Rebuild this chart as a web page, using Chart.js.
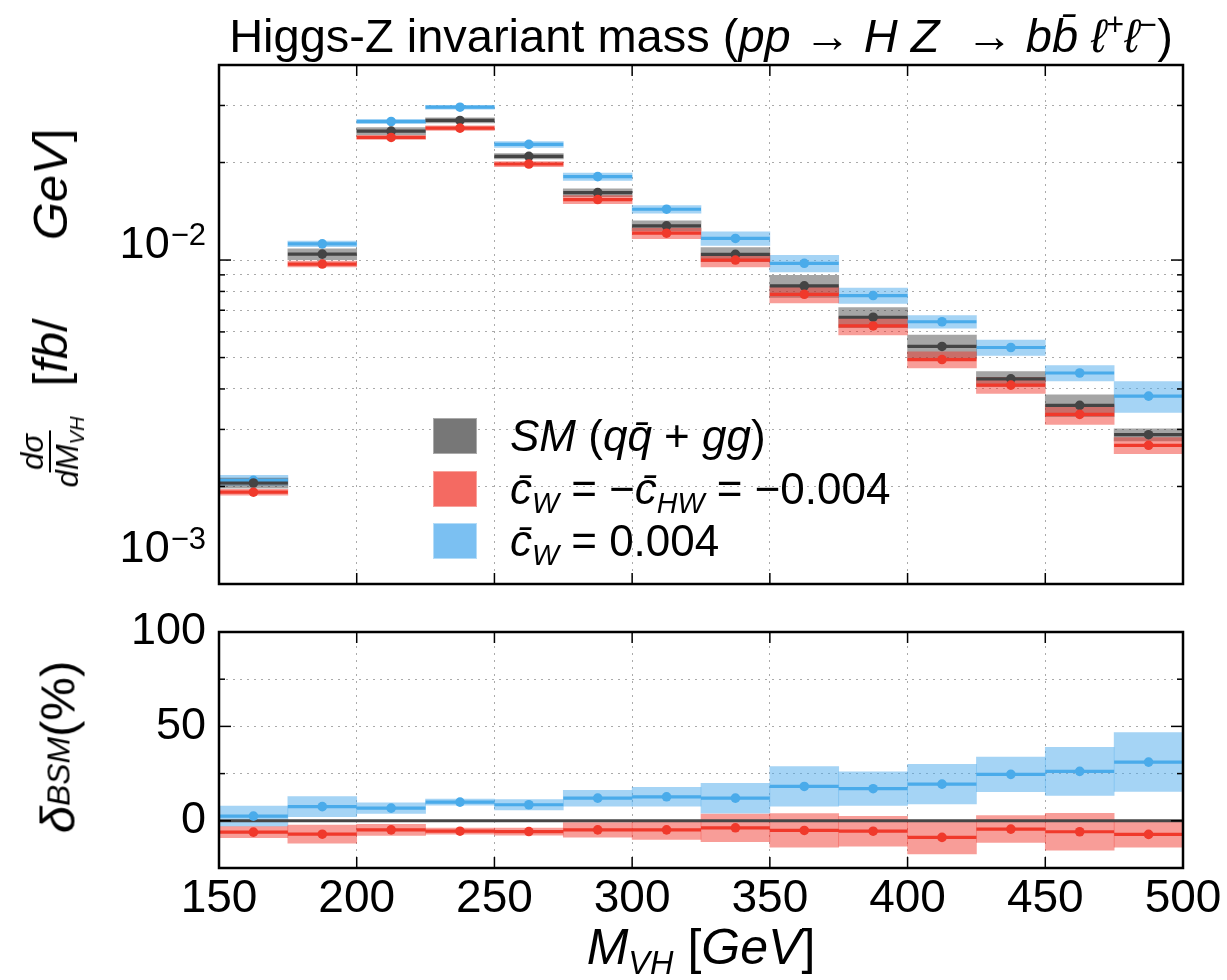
<!DOCTYPE html>
<html>
<head>
<meta charset="utf-8">
<script src="https://cdn.jsdelivr.net/npm/chart.js@4.4.1/dist/chart.umd.min.js"></script>
<style>
body{margin:0;background:#fff;}
#wrap{position:relative;width:1227px;height:980px;overflow:hidden;font-family:'Liberation Sans',Arial,sans-serif;color:#000;}
canvas{position:absolute;left:0;}
#cTop{top:0;}
#cBot{top:600px;}
.ov{position:absolute;white-space:nowrap;line-height:1;}
sub{font-size:0.65em;vertical-align:-0.3em;line-height:0;}
sup{font-size:0.65em;vertical-align:0.55em;line-height:0;}
#title{left:219px;width:964px;top:12px;text-align:center;font-size:47px;}
.rot{transform:translate(-50%,-50%) rotate(-90deg);display:flex;align-items:center;}
#ylabTop{left:50px;top:308px;font-size:49px;}
.frac{display:inline-flex;flex-direction:column;align-items:center;font-size:31px;}
.frac .num{border-bottom:2px solid #000;padding:0 3px 1px 3px;}
.frac .den{padding-top:1px;}
#ylabBot{left:58px;top:747px;font-size:49px;}
#xlab{left:219px;width:964px;top:922px;text-align:center;font-size:50px;}
#legend{left:433px;top:410px;font-size:44px;}
.row{display:flex;align-items:center;height:52.5px;}
.patch{width:44px;height:36px;margin-right:33px;box-sizing:border-box;}
</style>
</head>
<body>
<div id="wrap">
<canvas id="cTop" width="1227" height="600" style="width:1227px;height:600px"></canvas>
<canvas id="cBot" width="1227" height="380" style="width:1227px;height:380px"></canvas>

<div class="ov" id="title">Higgs-Z invariant mass (<i>pp</i> → <i>H Z</i> &nbsp;→ <i>bb̄</i> <i>ℓ</i><sup>+</sup><i>ℓ</i><sup>−</sup>)</div>

<div class="ov rot" id="ylabTop">
  <span class="frac"><span class="num"><i>dσ</i></span><span class="den"><i>dM</i><sub><i>VH</i></sub></span></span>
  <span style="margin-left:30px">[<i>fb</i>/</span>
  <span style="margin-left:78px"><i>GeV</i>]</span>
</div>

<div class="ov rot" id="ylabBot"><i>δ</i><sub><i>BSM</i></sub>(%)</div>

<div class="ov" id="xlab"><i>M</i><sub><i>VH</i></sub> [<i>GeV</i>]</div>

<div class="ov" id="legend">
  <div class="row"><div class="patch" style="background:#777;border:1px solid #aaa"></div><span><i>SM</i> (<i>q</i><i>q̄</i> + <i>gg</i>)</span></div>
  <div class="row"><div class="patch" style="background:#f46a62;border:1px solid #f8a29c"></div><span><i>c̄</i><sub><i>W</i></sub> = −<i>c̄</i><sub><i>HW</i></sub> = −0.004</span></div>
  <div class="row"><div class="patch" style="background:#7bc0f2;border:1px solid #b4dcf8"></div><span><i>c̄</i><sub><i>W</i></sub> = 0.004</span></div>
</div>
</div>

<script>
// bin edges in M_VH [GeV]
var edges = [150, 175, 200, 225, 250, 275, 300, 325, 350, 375, 400, 425, 450, 475, 500];
var xTicks = [150, 200, 250, 300, 350, 400, 450, 500];

// dsigma/dM_VH [fb/GeV]
var smXsec  = [0.00205, 0.01043, 0.0250, 0.02697, 0.0209, 0.01615, 0.01275, 0.01041, 0.00832, 0.00666, 0.00541, 0.0043, 0.00356, 0.00289];
var negXsec = [0.00192, 0.00972, 0.0239, 0.02553, 0.01979, 0.01537, 0.0121, 0.0100, 0.00784, 0.00626, 0.00493, 0.00411, 0.00334, 0.00268];
var posXsec = [0.00209, 0.01122, 0.02677, 0.02963, 0.02275, 0.01809, 0.01435, 0.01166, 0.00977, 0.00777, 0.00645, 0.00537, 0.00448, 0.0038];
// band half-heights, % of the value
var smErr  = [3.6, 3.9, 2.6, 1.8, 1.9, 2.8, 3.6, 5.0, 7.8, 7.1, 8.4, 5.2, 7.7, 4.3];
var negErr = [2.1, 2.1, 1.4, 1.6, 1.8, 2.8, 3.8, 4.8, 5.9, 6.2, 5.7, 5.7, 6.9, 5.7];
var posErr = [3.6, 1.9, 1.6, 1.4, 2.1, 2.6, 2.7, 4.8, 5.9, 5.5, 4.5, 5.5, 5.5, 10.9];

// delta_BSM (%) and band half-heights
var posDelta    = [2.5, 7.5, 6.7, 9.9, 8.5, 12, 12.7, 12, 18.2, 17, 19.4, 24.6, 26.2, 31.1];
var posDeltaErr = [5.3, 5.3, 2.8, 1.6, 2.7, 4.2, 5, 7.9, 10.5, 8.9, 10.5, 9.2, 12.7, 15.6];
var negDelta    = [-6, -7.1, -4.8, -5.5, -5.7, -4.8, -4.8, -3.7, -5.1, -5.5, -8.8, -4.4, -5.8, -7.2];
var negDeltaErr = [3, 4.8, 2.9, 1.6, 1.9, 3.9, 5.1, 7.3, 8.9, 7.9, 8.7, 7.1, 9.8, 6.8];

var yLabelsTop = [0.001, 0.01];
var yLabelsBot = [0, 50, 100];

var FONT = '"Liberation Sans", Arial, sans-serif';
Chart.defaults.font.family = FONT;
Chart.defaults.color = '#000';

var BLACK = '#444444', RED = '#f0392b', BLUE = '#4aabea';
var BLACK_BAND = 'rgba(64,64,64,0.47)', RED_BAND = 'rgba(240,50,40,0.48)', BLUE_BAND = 'rgba(76,170,235,0.5)';

function mid(i){ return (edges[i] + edges[i+1]) / 2; }
function seg(vals){
	var out = [];
	vals.forEach(function(v, i){
		out.push({x: edges[i], y: v}, {x: edges[i+1], y: v}, {x: edges[i+1], y: null});
	});
	return out;
}
function dots(vals){ return vals.map(function(v, i){ return {x: mid(i), y: v}; }); }
function bandLog(vals, errs){ return vals.map(function(v, i){ return {x: mid(i), y: [v*(1-errs[i]/100), v*(1+errs[i]/100)]}; }); }
function bandLin(vals, errs){ return vals.map(function(v, i){ return {x: mid(i), y: [v-errs[i], v+errs[i]]}; }); }

function bandSet(data, color, order){
	return {type: 'bar', data: data, backgroundColor: color, borderWidth: 0, barPercentage: 1, categoryPercentage: 1, grouped: false, order: order};
}
function lineSet(data, color, order, w){
	return {type: 'line', data: data, borderColor: color, borderWidth: w || 3.2, pointRadius: 0, spanGaps: false, fill: false, borderCapStyle: 'butt', order: order};
}
function dotSet(data, color, order){
	return {type: 'line', data: data, showLine: false, pointRadius: 4.8, pointBackgroundColor: color, pointBorderWidth: 0, order: order};
}

// inner ticks + full box frame, like the original
function makeFrame(majors){
	return {
		id: 'frame',
		afterDraw: function(chart){
			var ctx = chart.ctx, a = chart.chartArea, sx = chart.scales.x, sy = chart.scales.y;
			ctx.save();
			ctx.strokeStyle = '#000';
			ctx.lineWidth = 1.5;
			function ln(x1, y1, x2, y2){ ctx.beginPath(); ctx.moveTo(x1, y1); ctx.lineTo(x2, y2); ctx.stroke(); }
			sy.ticks.forEach(function(t){
				var py = sy.getPixelForValue(t.value);
				var len = majors.indexOf(t.value) >= 0 ? 12 : 6;
				ln(a.left, py, a.left + len, py);
				ln(a.right, py, a.right - len, py);
			});
			sx.ticks.forEach(function(t){
				var px = sx.getPixelForValue(t.value);
				ln(px, a.top, px, a.top + 11);
				ln(px, a.bottom, px, a.bottom - 11);
			});
			ctx.lineWidth = 2.5;
			ctx.strokeRect(a.left, a.top, a.right - a.left, a.bottom - a.top);
			ctx.restore();
		}
	};
}

// 10^n labels on the log axis
var powLabels = {
	id: 'powLabels',
	afterDraw: function(chart){
		var ctx = chart.ctx, s = chart.scales.y, a = chart.chartArea;
		ctx.save();
		ctx.fillStyle = '#000';
		ctx.textAlign = 'right';
		ctx.textBaseline = 'alphabetic';
		yLabelsTop.forEach(function(v){
			var py = s.getPixelForValue(v);
			var base = Math.min(py - 2, a.bottom - 22);
			var exp = '\u2212' + Math.round(-Math.log10(v));
			ctx.font = '31px ' + FONT;
			var ew = ctx.measureText(exp).width;
			ctx.fillText(exp, 206, base - 13);
			ctx.font = '45px ' + FONT;
			ctx.fillText('10', 206 - ew - 1, base);
		});
		ctx.restore();
	}
};

var gridOpts = {color: '#aaaaaa', lineWidth: 1, drawTicks: false};
var borderOpts = {display: false, dash: [2, 5]};

function xScale(showLabels, height){
	return {
		type: 'linear', min: 150, max: 500, offset: false,
		grid: Object.assign({offset: false}, gridOpts), border: borderOpts,
		afterBuildTicks: function(s){ s.ticks = xTicks.map(function(v){ return {value: v}; }); },
		ticks: {display: showLabels, padding: 4, font: {size: 46}, maxRotation: 0, autoSkip: false},
		afterFit: function(s){ s.height = height; s.paddingLeft = 0; s.paddingRight = 0; }
	};
}

var logTicks = [];
[0.001, 0.01].forEach(function(d){
	for(var m = 1; m <= 9; m++){ if(m*d <= 0.04 + 1e-9) logTicks.push(+(m*d).toPrecision(3)); }
});

new Chart(document.getElementById('cTop').getContext('2d'), {
	type: 'bar',
	data: {datasets: [
		dotSet(dots(negXsec), RED, 1),
		dotSet(dots(smXsec), BLACK, 2),
		dotSet(dots(posXsec), BLUE, 3),
		lineSet(seg(negXsec), RED, 4),
		lineSet(seg(smXsec), BLACK, 5),
		lineSet(seg(posXsec), BLUE, 6),
		bandSet(bandLog(negXsec, negErr), RED_BAND, 7),
		bandSet(bandLog(smXsec, smErr), BLACK_BAND, 8),
		bandSet(bandLog(posXsec, posErr), BLUE_BAND, 9)
	]},
	options: {
		responsive: false, animation: false, devicePixelRatio: 1,
		layout: {padding: {left: 0, right: 44, top: 65, bottom: 0}},
		plugins: {legend: {display: false}, tooltip: {enabled: false}},
		scales: {
			x: xScale(false, 16),
			y: {
				type: 'logarithmic', min: 0.001, max: 0.04,
				grid: gridOpts, border: borderOpts,
				afterBuildTicks: function(s){ s.ticks = logTicks.map(function(v){ return {value: v}; }); },
				ticks: {display: false},
				afterFit: function(s){ s.width = 219; s.paddingTop = 0; s.paddingBottom = 0; }
			}
		}
	},
	plugins: [makeFrame(yLabelsTop), powLabels]
});

new Chart(document.getElementById('cBot').getContext('2d'), {
	type: 'bar',
	data: {datasets: [
		dotSet(dots(negDelta), RED, 1),
		dotSet(dots(posDelta), BLUE, 2),
		lineSet(seg(negDelta), RED, 3),
		lineSet(seg(posDelta), BLUE, 4),
		lineSet([{x: 150, y: 0}, {x: 500, y: 0}], '#464646', 5, 3),
		bandSet(bandLin(negDelta, negDeltaErr), RED_BAND, 6),
		bandSet(bandLin(posDelta, posDeltaErr), BLUE_BAND, 7)
	]},
	options: {
		responsive: false, animation: false, devicePixelRatio: 1,
		layout: {padding: {left: 0, right: 44, top: 32, bottom: 0}},
		plugins: {legend: {display: false}, tooltip: {enabled: false}},
		scales: {
			x: xScale(true, 112),
			y: {
				type: 'linear', min: -25, max: 100,
				grid: gridOpts, border: borderOpts,
				ticks: {
					stepSize: 25, padding: 13, font: {size: 45}, autoSkip: false,
					callback: function(v){ return yLabelsBot.indexOf(v) >= 0 ? String(v) : ''; }
				},
				afterFit: function(s){ s.width = 219; s.paddingTop = 0; s.paddingBottom = 0; }
			}
		}
	},
	plugins: [makeFrame(yLabelsBot)]
});
</script>
</body>
</html>
